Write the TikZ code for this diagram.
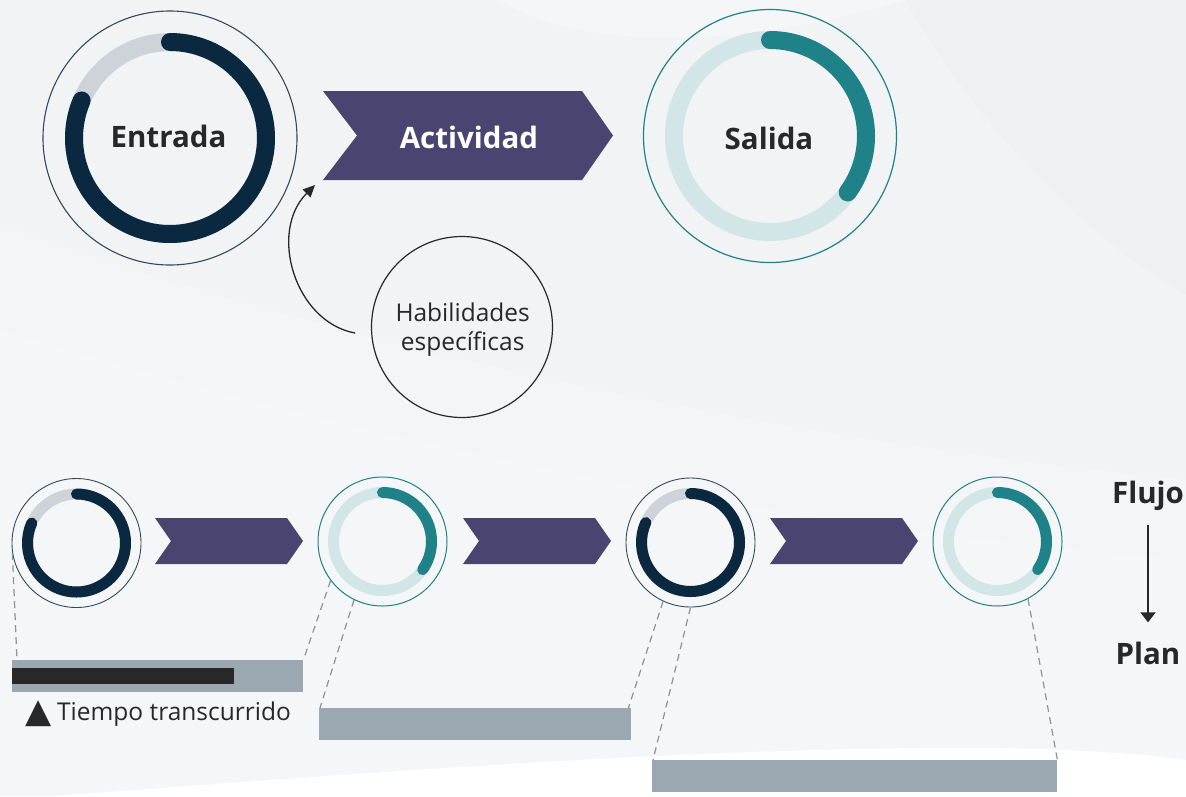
\documentclass[tikz,border=0pt]{standalone}
\usepackage{fontspec}
\setmainfont{Open Sans}
\newfontfamily\symfont{DejaVu Sans}
\usetikzlibrary{arrows.meta}
\definecolor{bgc}{HTML}{F2F3F5}
\definecolor{bgdark}{HTML}{ECEEF1}
\definecolor{navy}{HTML}{0A2840}
\definecolor{thinnavy}{HTML}{33495C}
\definecolor{ringgray}{HTML}{CDD3D8}
\definecolor{myteal}{HTML}{1F8288}
\definecolor{lteal}{HTML}{D3E6E7}
\definecolor{chev}{HTML}{4A4470}
\definecolor{barc}{HTML}{9BA8B1}
\definecolor{txt}{HTML}{282828}
\definecolor{dashc}{HTML}{8C9399}
\newcommand\bigb{\fontsize{29.5}{34}\selectfont\bfseries}
\newcommand\midr{\fontsize{24.5}{29}\selectfont}
\tikzset{
  outerdark/.style={circle, draw=thinnavy, line width=1.1pt, inner sep=0pt},
  outerteal/.style={circle, draw=myteal, line width=1.2pt, inner sep=0pt},
  chevron/.style={fill=chev},
  barbox/.style={fill=barc, inner sep=0pt, minimum height=32pt, anchor=north west},
  dashline/.style={draw=dashc, line width=1.2pt, dash pattern=on 7pt off 5pt},
  label/.style={text=txt, inner sep=0pt},
}
\begin{document}
\begin{tikzpicture}[x=1pt,y=-1pt]
\useasboundingbox (0,0) rectangle (1186,796);
% background
\fill[bgc] (0,0) rectangle (1186,796);
\fill[bgdark, opacity=0.6] (905,0) .. controls (975,120) and (1075,230) .. (1186,295) -- (1186,0) -- cycle;
\fill[white, opacity=0.18] (0,225) .. controls (300,330) and (700,430) .. (1186,480) -- (1186,796) -- (0,796) -- cycle;
\fill[white, opacity=0.15] (0,330) .. controls (300,420) and (700,520) .. (1186,560) -- (1186,796) -- (0,796) -- cycle;
\fill[white, opacity=0.25] (500,0) .. controls (560,40) and (700,60) .. (905,0) -- cycle;
\fill[white] (0,800) .. controls (300,778) and (700,745) .. (1000,748) .. controls (1100,750) and (1150,755) .. (1186,760) -- (1186,796) -- (0,796) -- cycle;

% ---------- top row ----------
% Entrada
\node[outerdark, minimum size=254pt] (entrada) at (170,138) {};
\draw[ringgray, line width=18pt] (entrada) circle[radius=96];
\draw[navy, line width=18pt, line cap=round] (entrada) ++(0,-96) arc[start angle=-90, end angle=203, radius=96];
\node[label, font=\bigb, anchor=base] (entradaT) at (168.5,147) {Entrada};

% Actividad chevron
\fill[chevron] (323,91) -- (582,91) -- (613,135.5) -- (582,180) -- (323,180) -- (357,135.5) -- cycle;
\node[inner sep=0pt, text=white, font=\bigb, anchor=base] (act) at (469,148) {Actividad};

% Salida
\node[outerteal, minimum size=253pt] (salida) at (770,136) {};
\draw[lteal, line width=18pt] (salida) circle[radius=96];
\draw[myteal, line width=18pt, line cap=round] (salida) ++(0,-96) arc[start angle=-90, end angle=36, radius=96];
\node[label, font=\bigb, anchor=base] (salidaT) at (769,149) {Salida};

% Habilidades
\node[circle, draw=txt, line width=1.2pt, minimum size=181pt, inner sep=0pt] (hab) at (462,327) {};
\node[label, font=\midr, align=center] (habT) at (462.7,330) {Habilidades\\específicas};
\coordinate (hs) at (355,333);
\coordinate (ht) at (315,185);
\draw[txt, line width=1.3pt, -{Triangle[length=12pt, width=11pt]}] (hs) .. controls (295,322) and (268,232) .. (ht);

% ---------- bottom row ----------
\node[outerdark, minimum size=129pt, line width=0.9pt] (s1) at (76.5,543) {};
\node[outerteal, minimum size=129pt, line width=1pt] (s2) at (382.5,541.5) {};
\node[outerdark, minimum size=129pt, line width=0.9pt] (s3) at (690.5,542.5) {};
\node[outerteal, minimum size=129pt, line width=1pt] (s4) at (997.5,541.5) {};
\foreach \s in {s1,s3}{
  \draw[ringgray, line width=11pt] (\s) circle[radius=49];
  \draw[navy, line width=11pt, line cap=round] (\s) ++(0,-49) arc[start angle=-90, end angle=204, radius=49];
}
\foreach \s in {s2,s4}{
  \draw[lteal, line width=11pt] (\s) circle[radius=49];
  \draw[myteal, line width=11pt, line cap=round] (\s) ++(0,-49) arc[start angle=-90, end angle=35, radius=49];
}
\foreach \x in {155,463,770}{
  \fill[chevron] (\x,518) -- ++(132,0) -- ++(16,23) -- ++(-16,23) -- ++(-132,0) -- ++(16,-23) -- cycle;
}

% bars
\node[barbox, minimum width=291pt] (b1) at (12,660) {};
\fill[txt] (12,668) rectangle (234,684);
\node[barbox, minimum width=312pt] (b2) at (319,708) {};
\node[barbox, minimum width=405pt] (b3) at (652,760) {};

% dashed connectors
\draw[dashline] (s1.189) -- ([xshift=5pt]b1.north west);
\draw[dashline] (s2.217) -- (b1.north east);
\draw[dashline] (s2.244) -- ([xshift=1pt]b2.north west);
\draw[dashline] (s3.245) -- ([xshift=-3pt]b2.north east);
\draw[dashline] (s3.270) -- ([xshift=1pt]b3.north west);
\draw[dashline] (s4.298) -- (b3.north east);

% legend
\node[label, anchor=base west, font=\symfont\fontsize{34}{38}\selectfont] (tri) at (25,722) {▲};
\node[label, anchor=base west, font=\midr] (tiempo) at (57,720) {Tiempo transcurrido};

% Flujo / Plan
\node[label, font=\bigb, anchor=base] (flujo) at (1148,503.5) {Flujo};
\node[label, font=\bigb, anchor=base] (plan) at (1148,664) {Plan};
\draw[txt, line width=1.3pt, shorten <=14pt, shorten >=19pt, -{Triangle[length=10pt, width=15pt]}] (flujo.south) -- (plan.north);
\end{tikzpicture}
\end{document}
